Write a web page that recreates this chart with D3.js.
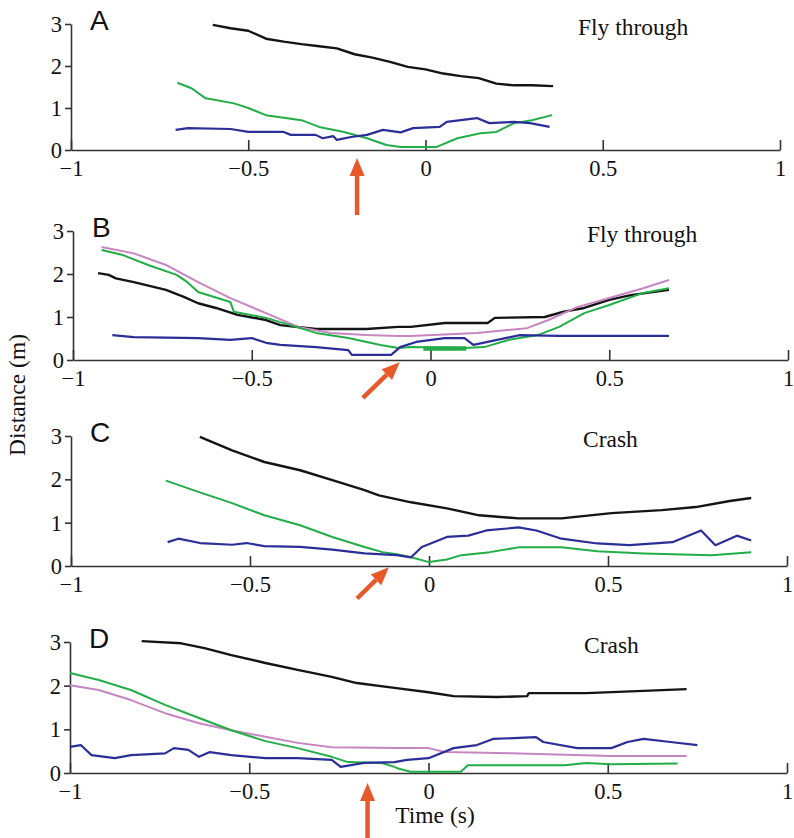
<!DOCTYPE html>
<html><head><meta charset="utf-8">
<script src="https://cdn.jsdelivr.net/npm/d3@7"></script>
<style>html,body{margin:0;padding:0;background:#fff}</style>
</head><body>
<svg id="c" width="794" height="838"></svg>
<script>
// ---- data ----
const xTicks = [-1, -0.5, 0, 0.5, 1];
const xTickLabels = ["\u22121", "\u22120.5", "0", "0.5", "1"];
const yTicks = [0, 1, 2, 3];
const panelLetters = ["A", "B", "C", "D"];
const panelTitles = ["Fly through", "Fly through", "Crash", "Crash"];
const xAxisTitle = "Time (s)";
const yAxisTitle = "Distance (m)";

const aBlack = [[-0.6,2.98],[-0.55,2.9],[-0.5,2.84],[-0.45,2.65],[-0.4,2.58],[-0.35,2.52],[-0.3,2.47],[-0.25,2.42],[-0.2,2.28],[-0.15,2.2],[-0.1,2.1],[-0.05,1.98],[0,1.92],[0.05,1.82],[0.1,1.76],[0.15,1.71],[0.2,1.58],[0.25,1.54],[0.3,1.54],[0.36,1.52]];
const aGreen = [[-0.7,1.6],[-0.66,1.47],[-0.62,1.23],[-0.54,1.11],[-0.5,1.0],[-0.45,0.83],[-0.35,0.71],[-0.3,0.55],[-0.23,0.43],[-0.165,0.28],[-0.11,0.12],[-0.07,0.07],[0.03,0.07],[0.09,0.28],[0.155,0.4],[0.2,0.43],[0.25,0.64],[0.3,0.71],[0.357,0.83]];
const aBlue = [[-0.705,0.48],[-0.67,0.52],[-0.55,0.5],[-0.5,0.43],[-0.4,0.43],[-0.38,0.36],[-0.31,0.36],[-0.29,0.28],[-0.26,0.33],[-0.25,0.24],[-0.21,0.31],[-0.165,0.36],[-0.12,0.48],[-0.07,0.42],[-0.035,0.52],[0.04,0.55],[0.06,0.67],[0.145,0.76],[0.18,0.64],[0.25,0.67],[0.295,0.64],[0.35,0.55]];

const bBlack = [[-0.93,2.02],[-0.9,1.98],[-0.88,1.9],[-0.83,1.81],[-0.74,1.63],[-0.69,1.47],[-0.65,1.32],[-0.6,1.21],[-0.54,1.05],[-0.46,0.93],[-0.42,0.81],[-0.32,0.72],[-0.18,0.72],[-0.09,0.77],[-0.055,0.77],[0.04,0.86],[0.16,0.86],[0.18,0.98],[0.32,1.0],[0.37,1.12],[0.43,1.21],[0.5,1.4],[0.56,1.51],[0.667,1.63]];
const bPink = [[-0.92,2.63],[-0.83,2.48],[-0.74,2.21],[-0.65,1.81],[-0.56,1.44],[-0.46,1.09],[-0.37,0.77],[-0.28,0.63],[-0.18,0.58],[-0.09,0.56],[-0.055,0.56],[0.13,0.63],[0.27,0.74],[0.33,0.93],[0.41,1.23],[0.5,1.44],[0.595,1.67],[0.667,1.86]];
const bGreen = [[-0.92,2.56],[-0.86,2.44],[-0.79,2.21],[-0.71,1.98],[-0.68,1.81],[-0.65,1.58],[-0.56,1.35],[-0.55,1.12],[-0.46,0.98],[-0.42,0.88],[-0.32,0.63],[-0.23,0.51],[-0.14,0.35],[-0.09,0.28],[-0.055,0.3],[0.095,0.28],[0.15,0.3],[0.22,0.47],[0.3,0.58],[0.36,0.77],[0.43,1.09],[0.5,1.28],[0.595,1.56],[0.667,1.67]];
const bGreenThick = [[-0.02,0.27],[0.1,0.27]];
const bBlue = [[-0.89,0.58],[-0.83,0.53],[-0.65,0.51],[-0.56,0.47],[-0.5,0.51],[-0.46,0.4],[-0.42,0.35],[-0.32,0.3],[-0.23,0.23],[-0.22,0.12],[-0.11,0.12],[-0.085,0.3],[-0.04,0.42],[0.04,0.51],[0.095,0.51],[0.12,0.35],[0.16,0.42],[0.25,0.58],[0.36,0.56],[0.667,0.56]];

const cBlack = [[-0.64,2.98],[-0.55,2.67],[-0.46,2.4],[-0.36,2.21],[-0.27,1.98],[-0.18,1.75],[-0.14,1.63],[-0.05,1.47],[0.05,1.33],[0.14,1.17],[0.25,1.1],[0.37,1.1],[0.51,1.22],[0.65,1.29],[0.745,1.36],[0.84,1.5],[0.9,1.57]];
const cGreen = [[-0.735,1.97],[-0.64,1.7],[-0.55,1.45],[-0.46,1.17],[-0.36,0.94],[-0.27,0.67],[-0.18,0.44],[-0.13,0.32],[-0.09,0.27],[-0.05,0.2],[0,0.09],[0.05,0.15],[0.09,0.25],[0.17,0.32],[0.25,0.43],[0.37,0.43],[0.47,0.34],[0.6,0.29],[0.79,0.25],[0.9,0.32]];
const cBlue = [[-0.73,0.55],[-0.7,0.63],[-0.64,0.53],[-0.55,0.49],[-0.51,0.53],[-0.46,0.46],[-0.36,0.44],[-0.27,0.38],[-0.18,0.29],[-0.09,0.25],[-0.05,0.2],[-0.02,0.44],[0.05,0.67],[0.11,0.7],[0.16,0.82],[0.25,0.89],[0.3,0.82],[0.37,0.63],[0.47,0.52],[0.56,0.48],[0.68,0.55],[0.76,0.82],[0.8,0.48],[0.86,0.7],[0.9,0.59]];

const dBlack = [[-0.8,3.02],[-0.69,2.97],[-0.625,2.86],[-0.55,2.7],[-0.455,2.52],[-0.365,2.36],[-0.27,2.2],[-0.2,2.06],[-0.095,1.95],[0,1.85],[0.07,1.76],[0.19,1.74],[0.275,1.76],[0.28,1.83],[0.44,1.83],[0.6,1.88],[0.72,1.92]];
const dGreen = [[-1.0,2.29],[-0.92,2.13],[-0.83,1.9],[-0.735,1.56],[-0.64,1.26],[-0.55,0.98],[-0.455,0.73],[-0.365,0.57],[-0.27,0.37],[-0.225,0.25],[-0.13,0.23],[-0.095,0.14],[-0.087,0.11],[-0.05,0.03],[0.09,0.03],[0.11,0.18],[0.18,0.18],[0.38,0.18],[0.44,0.23],[0.51,0.2],[0.695,0.22]];
const dPink = [[-1.0,2.01],[-0.92,1.9],[-0.83,1.67],[-0.735,1.37],[-0.64,1.14],[-0.55,0.98],[-0.455,0.83],[-0.365,0.69],[-0.27,0.59],[-0.086,0.57],[0,0.57],[0.045,0.48],[0.23,0.45],[0.51,0.39],[0.72,0.39]];
const dBlue = [[-1.0,0.6],[-0.97,0.64],[-0.94,0.41],[-0.875,0.34],[-0.83,0.41],[-0.735,0.45],[-0.71,0.57],[-0.67,0.53],[-0.64,0.37],[-0.61,0.48],[-0.55,0.41],[-0.455,0.34],[-0.365,0.34],[-0.27,0.3],[-0.245,0.14],[-0.18,0.23],[-0.095,0.25],[-0.06,0.3],[0,0.34],[0.07,0.57],[0.135,0.64],[0.18,0.78],[0.3,0.82],[0.32,0.71],[0.415,0.57],[0.51,0.57],[0.555,0.71],[0.6,0.78],[0.675,0.71],[0.75,0.64]];

// arrows: [tailTime, tailDist, tipTime, tipDist]
const arrowA = [-0.193, -1.55, -0.193, -0.19];
const arrowB = [-0.189, -0.88, -0.086, -0.05];
const arrowC = [-0.201, -0.75, -0.112, -0.03];
const arrowD = [-0.17, -1.49, -0.17, -0.23];

// ---- layout ----
const panels = [
  {left:71, right:780, y0:150, y3:24, series:[[aBlack,"black"],[aGreen,"green"],[aBlue,"blue"]], arrow:arrowA, titleX:578, titleY:35},
  {left:73, right:788, y0:360, y3:231, series:[[bBlack,"black"],[bPink,"pink"],[bGreen,"green"],[bGreenThick,"greenThick"],[bBlue,"blue"]], arrow:arrowB, titleX:587, titleY:242},
  {left:71, right:787, y0:566, y3:436, series:[[cBlack,"black"],[cGreen,"green"],[cBlue,"blue"]], arrow:arrowC, titleX:583, titleY:447},
  {left:70, right:787, y0:773, y3:642, series:[[dBlack,"black"],[dPink,"pink"],[dGreen,"green"],[dBlue,"blue"]], arrow:arrowD, titleX:584, titleY:653}
];
const colors = {black:"#141414", green:"#22ad48", greenThick:"#22ad48", blue:"#2c2e98", pink:"#c785c2"};
const widths = {black:2.4, green:2.0, greenThick:4.5, blue:2.2, pink:2.0};
const arrowColor = "#e8592a";
const serif = "'Liberation Serif','Times New Roman',serif";
const sans = "'Liberation Sans',Arial,sans-serif";

const svg = d3.select("#c");

panels.forEach((p, i) => {
  const x = d3.scaleLinear().domain([-1, 1]).range([p.left, p.right]);
  const y = d3.scaleLinear().domain([0, 3]).range([p.y0, p.y3]);
  const g = svg.append("g");

  // y axis
  const ya = g.append("g").attr("transform", `translate(${p.left},0)`)
    .call(d3.axisLeft(y).tickValues(yTicks).tickSizeInner(6).tickSizeOuter(0).tickPadding(3).tickFormat(d3.format("d")));
  // x axis
  const xa = g.append("g").attr("transform", `translate(0,${p.y0})`)
    .call(d3.axisBottom(x).tickValues(xTicks).tickSizeInner(-10).tickSizeOuter(0).tickPadding(10)
      .tickFormat((d, j) => xTickLabels[j]));
  [ya, xa].forEach(a => {
    a.select(".domain").attr("stroke", "#333").attr("stroke-width", 1.6);
    a.selectAll(".tick line").attr("stroke", "#333").attr("stroke-width", 1.6);
    a.selectAll(".tick text").attr("fill", "#111").style("font-family", serif).style("font-size", "22.5px");
  });
  ya.selectAll(".tick text").attr("dy", "0.34em");

  // lines
  const line = d3.line().x(d => x(d[0])).y(d => y(d[1]));
  p.series.forEach(([data, c]) => {
    g.append("path").datum(data).attr("d", line).attr("fill", "none")
      .attr("stroke", colors[c]).attr("stroke-width", widths[c]).attr("stroke-linejoin", "round");
  });

  // letter
  g.append("text").attr("x", p.left + 19).attr("y", p.y3 + 6)
    .style("font-family", sans).style("font-size", "28px").attr("fill", "#111").text(panelLetters[i]);
  // title
  g.append("text").attr("x", p.titleX).attr("y", p.titleY)
    .style("font-family", serif).style("font-size", "23.5px").attr("fill", "#111").text(panelTitles[i]);

  // arrow
  const [t0, d0, t1, d1] = p.arrow;
  const x0 = x(t0), y0 = y(d0), x1 = x(t1), y1 = y(d1);
  const ang = Math.atan2(y1 - y0, x1 - x0);
  const hl = 18, hw = 7.5;
  const bx = x1 - hl * Math.cos(ang), by = y1 - hl * Math.sin(ang);
  g.append("line").attr("x1", x0).attr("y1", y0).attr("x2", bx).attr("y2", by)
    .attr("stroke", arrowColor).attr("stroke-width", 4.5);
  g.append("path").attr("d", `M${x1},${y1}L${bx + hw * Math.sin(ang)},${by - hw * Math.cos(ang)}L${bx - hw * Math.sin(ang)},${by + hw * Math.cos(ang)}Z`)
    .attr("fill", arrowColor);
});

// axis titles
svg.append("text").attr("transform", "translate(25,395) rotate(-90)").attr("text-anchor", "middle")
  .style("font-family", serif).style("font-size", "23.5px").attr("fill", "#111").text(yAxisTitle);
svg.append("text").attr("x", 435).attr("y", 823).attr("text-anchor", "middle")
  .style("font-family", serif).style("font-size", "23.5px").attr("fill", "#111").text(xAxisTitle);
</script>
</body></html>
